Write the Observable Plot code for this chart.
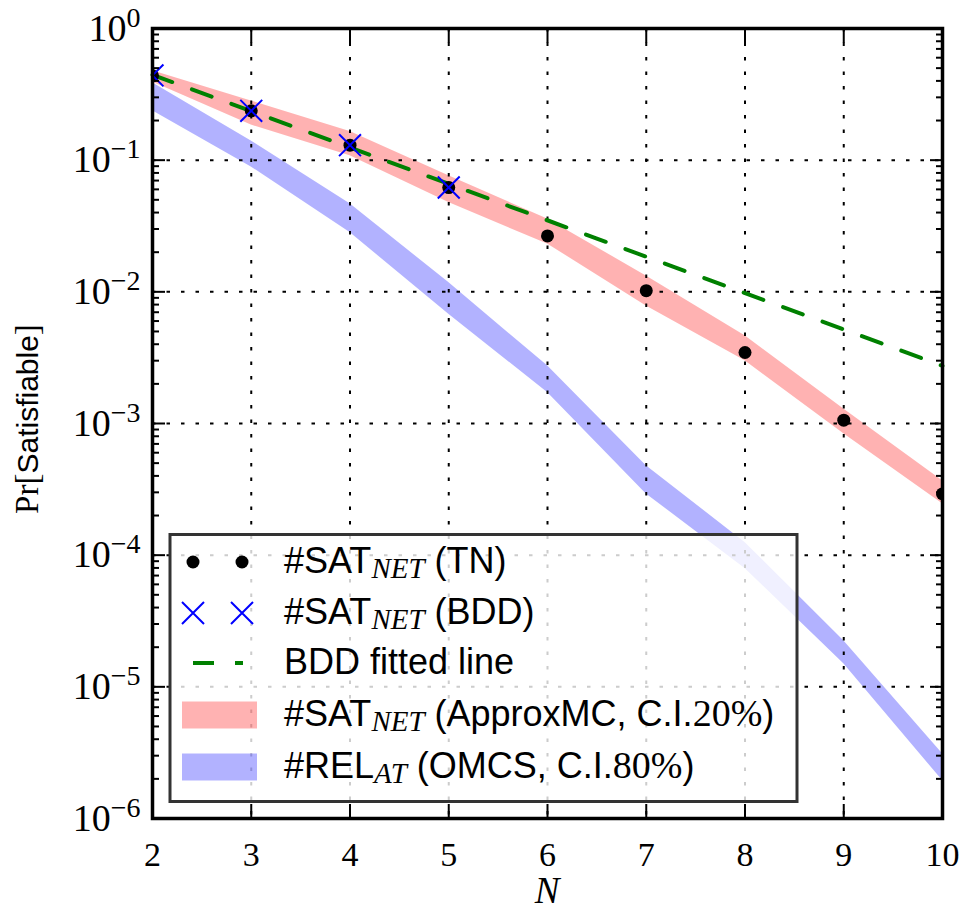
<!DOCTYPE html>
<html><head><meta charset="utf-8">
<script src="https://cdn.jsdelivr.net/npm/d3@7"></script>
<script src="https://cdn.jsdelivr.net/npm/@observablehq/plot@0.6"></script>
<style>
body{margin:0;background:#fff;}
#wrap{width:964px;height:916px;}
</style></head><body><div id="wrap"></div>
<script>
// ---- data ----
const N = [2, 3, 4, 5, 6, 7, 8, 9, 10];
const tnValues = [0.437, 0.237, 0.130, 0.0619, 0.0266, 0.0102, 0.00346, 0.00106, 0.000292];
const bddN = [2, 3, 4, 5];
const bddValues = [0.440, 0.237, 0.130, 0.0620];
const fitN = [2, 10];
const fitValues = [0.445, 0.00274];
const approxLow  = [0.393, 0.185, 0.108, 0.0476, 0.0231, 0.00782, 0.00299, 0.000835, 0.000246];
const approxHigh = [0.477, 0.282, 0.165, 0.0760, 0.0358, 0.0132, 0.00463, 0.00129, 0.000367];
const omcsLow  = [0.237, 0.0889, 0.0282, 0.00677, 0.00172, 0.000292, 0.0000792, 0.0000150, 0.00000194];
const omcsHigh = [0.388, 0.140, 0.0466, 0.01177, 0.00274, 0.000478, 0.000125, 0.0000224, 0.0000031];
const xTicks = [2, 3, 4, 5, 6, 7, 8, 9, 10];
const yExponents = [0, -1, -2, -3, -4, -5, -6];

// ---- tables built from the arrays ----
const tnRows = N.map((n, i) => ({N: n, v: tnValues[i]}));
const bddRows = bddN.map((n, i) => ({N: n, v: bddValues[i]}));
const fitRows = fitN.map((n, i) => ({N: n, v: fitValues[i]}));
const approxRows = N.map((n, i) => ({N: n, lo: approxLow[i], hi: approxHigh[i]}));
const omcsRows = N.map((n, i) => ({N: n, lo: omcsLow[i], hi: omcsHigh[i]}));
const yTicks = yExponents.map(e => Math.pow(10, e));
const yMinor = [];
yExponents.slice(1).forEach(e => { for (let k = 2; k <= 9; k++) yMinor.push(k * Math.pow(10, e)); });
const expOf = v => Math.round(Math.log10(v));
const fmtY = v => "10^" + String(expOf(v)).replace("-", "\u2212");
const yBottom = Math.pow(10, yExponents[yExponents.length - 1]);

const serif = "'Liberation Serif', serif";
const sans = "'Liberation Sans', Arial, sans-serif";
const grid = {stroke: "black", strokeOpacity: 1, strokeWidth: 2, strokeDasharray: "3.5,11"};
const blank = () => "";

const chart = Plot.plot({
  width: 964, height: 916,
  marginTop: 28, marginRight: 22, marginBottom: 98, marginLeft: 152,
  x: {domain: [2, 10]},
  y: {type: "log", domain: [1e-6, 1]},
  style: {fontFamily: serif, fontSize: "32px", background: "white", color: "black"},
  marks: [
    Plot.areaY(omcsRows, {x: "N", y1: "lo", y2: "hi", fill: "blue", fillOpacity: 0.3}),
    Plot.areaY(approxRows, {x: "N", y1: "lo", y2: "hi", fill: "red", fillOpacity: 0.3}),
    Plot.gridX(xTicks, grid),
    Plot.gridY(yTicks, grid),
    Plot.line(fitRows, {x: "N", y: "v", stroke: "#008000", strokeWidth: 4, strokeDasharray: "21,21"}),
    Plot.dot(tnRows, {x: "N", y: "v", r: 6.5, fill: "black", clip: true}),
    Plot.dot(bddRows, {x: "N", y: "v", symbol: "times", r: 10, stroke: "blue", strokeWidth: 2, clip: true}),
    Plot.axisX(xTicks, {anchor: "bottom", tickSize: -14, strokeWidth: 2, label: null, tickFormat: blank}),
    Plot.axisX(xTicks, {anchor: "top", tickSize: -14, strokeWidth: 2, label: null, tickFormat: blank}),
    Plot.axisY(yTicks, {anchor: "left", tickSize: -13, strokeWidth: 2, label: null, tickFormat: blank}),
    Plot.axisY(yMinor, {anchor: "left", tickSize: -7, strokeWidth: 2, label: null, tickFormat: blank}),
    Plot.axisY(yTicks, {anchor: "right", tickSize: -13, strokeWidth: 2, label: null, tickFormat: blank}),
    Plot.axisY(yMinor, {anchor: "right", tickSize: -7, strokeWidth: 2, label: null, tickFormat: blank}),
    Plot.text(xTicks, {x: d => d, y: () => yBottom, dy: 37, text: d => String(d),
      fontSize: 34, fontFamily: serif, fill: "black", lineAnchor: "middle", textAnchor: "middle"}),
    Plot.text(yTicks, {y: d => d, frameAnchor: "left", dx: -12, text: fmtY,
      fontSize: 38, fontFamily: serif, fill: "black", lineAnchor: "middle", textAnchor: "end"}),
    Plot.frame({stroke: "black", strokeWidth: 3.5})
  ]
});
document.getElementById("wrap").appendChild(chart);

const svg = d3.select(chart);
// superscripts on the y tick labels
svg.selectAll("text").each(function() {
  const t = this.textContent;
  if (t.indexOf("^") < 0) return;
  const [base, ex] = t.split("^");
  const sel = d3.select(this);
  sel.text(null);
  sel.append("tspan").text(base);
  sel.append("tspan").attr("dy", -14).attr("font-size", "28px").text(ex);
});

// y label
const yl = svg.append("text")
  .attr("transform", "translate(38,419) rotate(-90)")
  .attr("text-anchor", "middle")
  .attr("font-size", "30px").attr("fill", "black");
yl.append("tspan").attr("font-family", serif).attr("font-size", "33px").text("Pr[");
yl.append("tspan").attr("font-family", sans).text("Satisfiable");
yl.append("tspan").attr("font-family", serif).attr("font-size", "33px").text("]");

// x label
svg.append("text").attr("x", 547).attr("y", 903).attr("text-anchor", "middle")
  .attr("font-family", serif).attr("font-style", "italic").attr("font-size", "37px")
  .attr("fill", "black").text("N");

// legend
const lg = svg.append("g");
lg.append("rect").attr("x", 170).attr("y", 534.5).attr("width", 627).attr("height", 267)
  .attr("fill", "white").attr("fill-opacity", 0.8).attr("stroke", "#333").attr("stroke-width", 3);
const rows = [562, 613, 663, 715, 767];
const sx = [193, 242];
sx.forEach(x => lg.append("circle").attr("cx", x).attr("cy", rows[0]).attr("r", 6.5).attr("fill", "black"));
sx.forEach(x => lg.append("path").attr("d", `M${x-11},${rows[1]-11}L${x+11},${rows[1]+11}M${x-11},${rows[1]+11}L${x+11},${rows[1]-11}`)
  .attr("stroke", "blue").attr("stroke-width", 2).attr("fill", "none"));
lg.append("line").attr("x1", 193).attr("x2", 243).attr("y1", rows[2]).attr("y2", rows[2])
  .attr("stroke", "#008000").attr("stroke-width", 4).attr("stroke-dasharray", "21,21");
lg.append("rect").attr("x", 182).attr("y", rows[3] - 13.5).attr("width", 75).attr("height", 27).attr("fill", "red").attr("fill-opacity", 0.3);
lg.append("rect").attr("x", 182).attr("y", rows[4] - 13.5).attr("width", 75).attr("height", 27).attr("fill", "blue").attr("fill-opacity", 0.3);

const labels = [
  [["#SAT", "s"], ["NET", "sub"], [" (TN)", "s"]],
  [["#SAT", "s"], ["NET", "sub"], [" (BDD)", "s"]],
  [["BDD fitted line", "s"]],
  [["#SAT", "s"], ["NET", "sub"], [" (ApproxMC, C.I.", "s"], ["20%", "r"], [")", "s"]],
  [["#REL", "s"], ["AT", "sub"], [" (OMCS, C.I.", "s"], ["80%", "r"], [")", "s"]]
];
labels.forEach((parts, i) => {
  const t = lg.append("text").attr("x", 284).attr("y", rows[i] + 11).attr("text-anchor", "start")
    .attr("font-size", "36px").attr("fill", "black").attr("font-family", sans);
  let shifted = false;
  parts.forEach(([s, kind]) => {
    const ts = t.append("tspan").text(s);
    if (kind === "sub") {
      ts.attr("font-family", serif).attr("font-style", "italic").attr("font-size", "29px").attr("dy", 5);
      shifted = true;
    } else {
      if (shifted) { ts.attr("dy", -5); shifted = false; }
      if (kind === "r") ts.attr("font-family", serif).attr("font-size", "38px");
    }
  });
});
</script></body></html>
